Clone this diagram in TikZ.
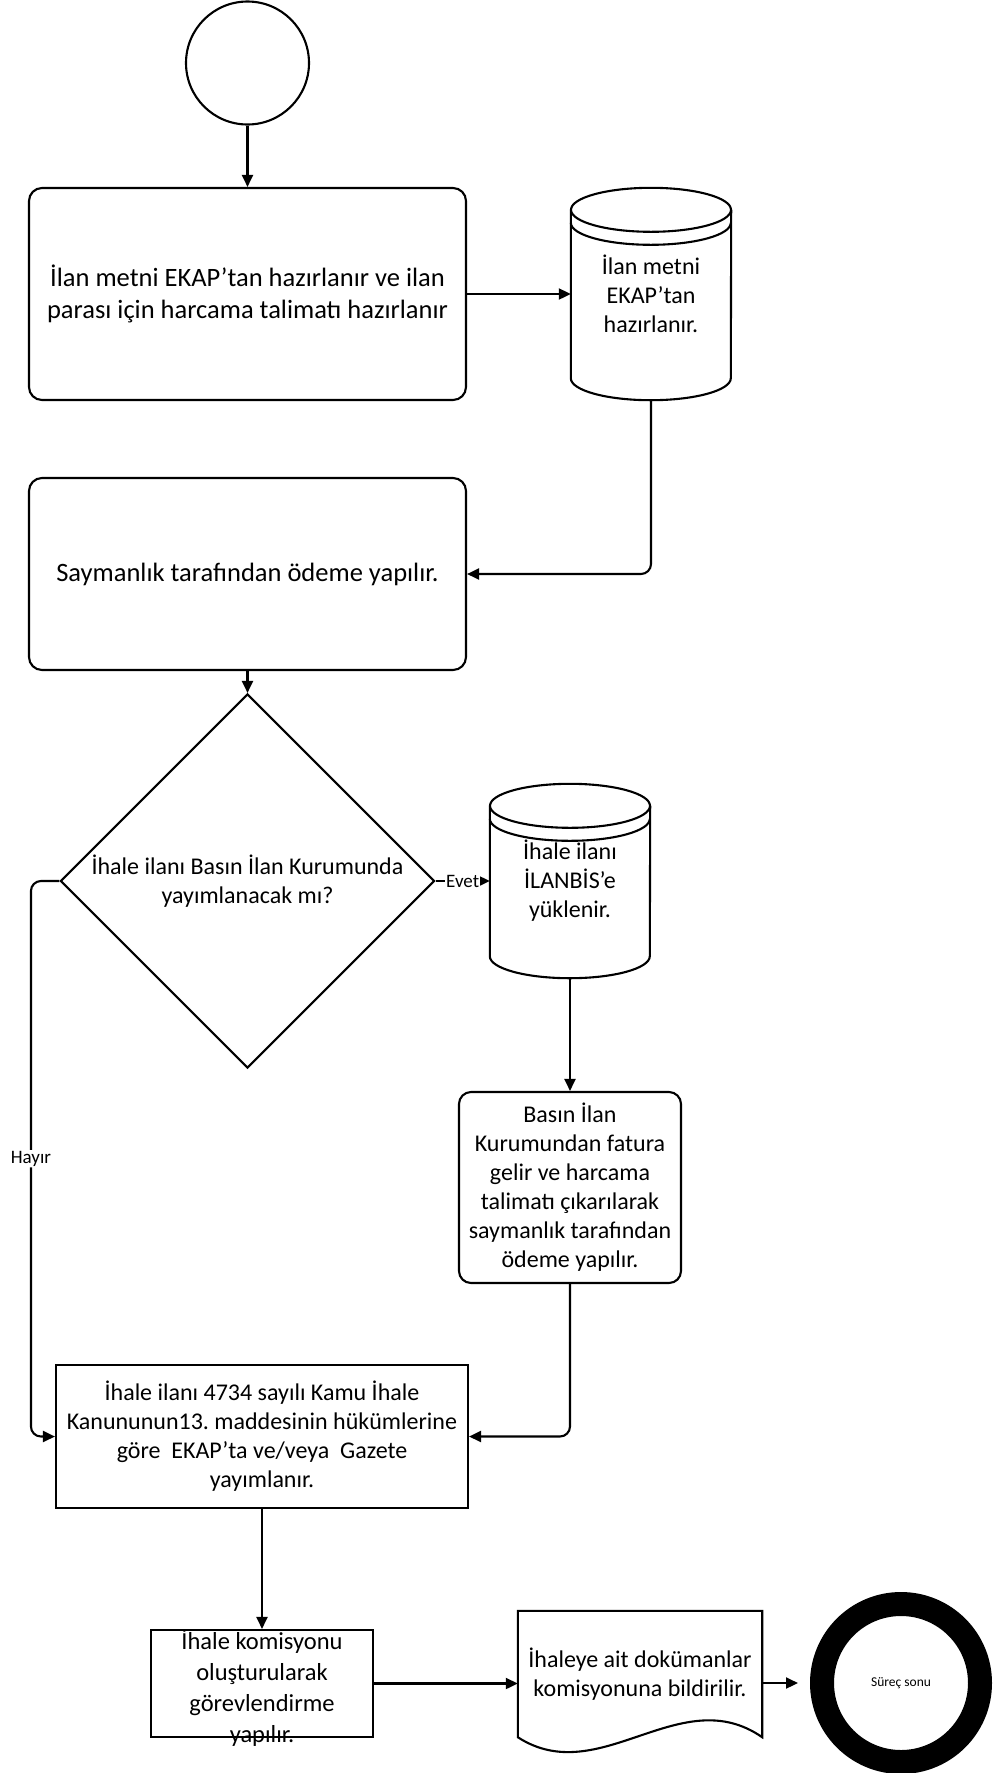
\documentclass[tikz,border=0pt]{standalone}
\usepackage{fontspec}
\setmainfont{Carlito}
\usetikzlibrary{arrows.meta, shapes.geometric, calc}
\frenchspacing

\newcommand{\yazi}{\fontsize{24}{29}\selectfont}
\newcommand{\buyukyazi}{\fontsize{26.5}{31.5}\selectfont}

% drum radii
\def\drx{80}
\def\dry{22}

% drum outline round a node
\newcommand{\davul}[1]{%
  \draw[base] ($(#1.north)+(0,-\dry)$) ellipse[x radius=\drx, y radius=\dry];
  \draw[base] ($(#1.north west)+(0,-\dry)$) -- ($(#1.south west)+(0,\dry)$)
    arc[start angle=180, end angle=360, x radius=\drx, y radius=\dry]
    -- ($(#1.north east)+(0,-\dry)$);
  \draw[base] ($(#1.north west)+(0,-\dry-13)$)
    arc[start angle=180, end angle=360, x radius=\drx, y radius=\dry];
}

\begin{document}
\begin{tikzpicture}[x=1pt, y=1pt,
  base/.style={line width=2.1pt},
  islem/.style={base, draw, rounded corners=13pt, align=center, inner sep=0pt, font=\buyukyazi},
  kutu/.style={base, draw, align=center, inner sep=0pt, font=\yazi},
  davulnode/.style={rectangle, align=center, inner sep=0pt, font=\yazi},
  karar/.style={base, draw, diamond, aspect=1, align=center, inner sep=0pt, font=\yazi},
  ok/.style={base, -{Triangle[length=12pt, width=11pt]}},
  etiket/.style={fill=white, inner sep=1pt, font=\fontsize{19}{22}\selectfont}]

  \useasboundingbox (0,0) rectangle (1006,-1773);

  % start
  \node[base, draw, circle, minimum size=123pt, inner sep=0pt] (basla) at (247.5,-63) {};

  % first steps
  \node[islem, minimum width=437pt, minimum height=212pt] (hazirlik) at (247.5,-294)
    {İlan metni EKAP’tan hazırlanır ve ilan\\parası için harcama talimatı hazırlanır};
  \node[davulnode, minimum width=160pt, minimum height=212pt] (ekap) at (651,-294)
    {İlan metni\\EKAP’tan\\hazırlanır.};
  \davul{ekap}
  \node[islem, minimum width=437pt, minimum height=192pt] (odeme) at (247.5,-574)
    {Saymanlık tarafından ödeme yapılır.};

  % decision
  \node[karar, minimum width=374pt, minimum height=374pt] (soru) at (247.5,-881)
    {İhale ilanı Basın İlan Kurumunda\\yayımlanacak mı?};
  \node[davulnode, minimum width=160pt, minimum height=194pt] (ilanbis) at (570,-881)
    {İhale ilanı\\İLANBİS’e\\yüklenir.};
  \davul{ilanbis}
  \node[kutu, rounded corners=12pt, minimum width=222pt, minimum height=191pt] (fatura) at (570,-1187.5)
    {Basın İlan\\Kurumundan fatura\\gelir ve harcama\\talimatı çıkarılarak\\saymanlık tarafından\\ödeme yapılır.};

  % publication
  \node[kutu, minimum width=412pt, minimum height=143pt] (yayin) at (262,-1436.5)
    {İhale ilanı 4734 sayılı Kamu İhale\\Kanununun13. maddesinin hükümlerine\\göre\ \ EKAP’ta ve/veya\ \ Gazete\\yayımlanır.};

  % last row
  \node[kutu, minimum width=222pt, minimum height=107pt] (komisyon) at (262,-1683.5) {};
  \node[align=center, font=\fontsize{24.5}{31}\selectfont] (komisyonyazi) at ([yshift=-4pt]komisyon.center)
    {İhale komisyonu\\oluşturularak\\görevlendirme\\yapılır.};
  \node[davulnode, minimum width=244pt, minimum height=126pt] (belge) at (640,-1674)
    {İhaleye ait dokümanlar\\komisyonuna bildirilir.};
  \draw[base] (belge.north west) -- (belge.north east) -- (belge.south east)
    .. controls ($(belge.south east)+(-82,57)$) and ($(belge.south west)+(82,-53)$) .. (belge.south west) -- cycle;
  \node[draw, circle, line width=24pt, minimum size=158pt, inner sep=0pt,
    font=\fontsize{13.5}{16}\selectfont] (son) at (901,-1683) {Süreç sonu};

  % connectors
  \draw[ok] (basla) -- (hazirlik);
  \draw[ok] (hazirlik) -- (ekap);
  \draw[ok, rounded corners=10pt] (ekap.south) |- (odeme.east);
  \draw[ok] (odeme) -- (soru);
  \draw[ok] (soru) -- node[etiket] {Evet} (ilanbis);
  \draw[ok] (ilanbis) -- (fatura);
  \draw[ok, rounded corners=10pt] (fatura.south) |- (yayin.east);
  \draw[ok, rounded corners=10pt] (soru.west) -- ++(-28.5,0) |- node[etiket, pos=0.25] {Hayır} (yayin.west);
  \draw[ok] (yayin) -- (komisyon);
  \draw[ok] (komisyon.east) -- (komisyon.east -| belge.west);
  \draw[ok, shorten >=12pt] (son.west -| belge.east) -- (son.west);

\end{tikzpicture}
\end{document}
